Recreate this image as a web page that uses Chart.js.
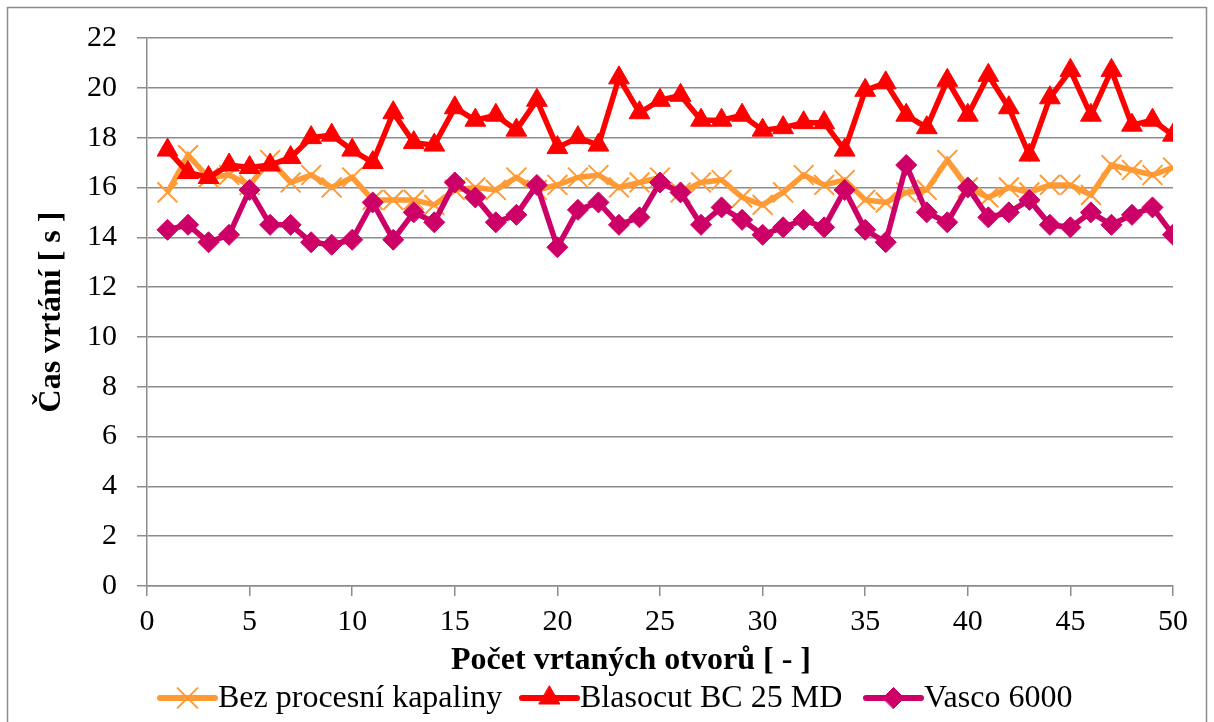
<!DOCTYPE html>
<html>
<head>
<meta charset="utf-8">
<script src="https://cdn.jsdelivr.net/npm/chart.js@4/dist/chart.umd.min.js"></script>
<style>
html,body{margin:0;padding:0;background:#fff;}
#wrap{width:1214px;height:722px;position:relative;}
</style>
</head>
<body>
<div id="wrap"><canvas id="c" width="1214" height="722"></canvas></div>
<script>
const holes = Array.from({length: 50}, (_, i) => i + 1);
const seriesNames = ['Bez procesní kapaliny', 'Blasocut BC 25 MD', 'Vasco 6000'];
const bezValues = [15.8,17.3,16.4,16.5,16.1,17.1,16.2,16.5,16.0,16.4,
                   15.5,15.5,15.5,15.3,15.9,16.0,15.9,16.4,15.9,16.1,
                   16.4,16.5,16.0,16.2,16.4,15.8,16.2,16.3,15.6,15.3,
                   15.8,16.5,16.1,16.3,15.5,15.4,15.8,15.9,17.1,16.0,
                   15.6,16.0,15.8,16.1,16.1,15.7,16.9,16.7,16.5,16.8];
const blasocutValues = [17.5,16.6,16.4,16.9,16.8,16.9,17.2,18.0,18.1,17.5,
                        17.0,19.0,17.8,17.7,19.2,18.7,18.9,18.3,19.5,17.6,
                        18.0,17.7,20.4,19.0,19.5,19.7,18.7,18.7,18.9,18.3,
                        18.4,18.6,18.6,17.5,19.9,20.2,18.9,18.4,20.3,18.9,
                        20.5,19.2,17.3,19.6,20.7,18.9,20.7,18.5,18.7,18.1];
const vascoValues = [14.3,14.5,13.8,14.1,15.9,14.5,14.5,13.8,13.7,13.9,
                     15.4,13.9,15.0,14.6,16.2,15.6,14.6,14.9,16.1,13.6,
                     15.1,15.4,14.5,14.8,16.2,15.8,14.5,15.2,14.7,14.1,
                     14.4,14.7,14.4,15.9,14.3,13.8,16.9,15.0,14.6,16.0,
                     14.8,15.0,15.5,14.5,14.4,15.0,14.5,14.9,15.2,14.1];
const xTitle = 'Počet vrtaných otvorů [ - ]';
const yTitle = 'Čas vrtání [ s ]';

const FONT = '"Liberation Serif", "Times New Roman", serif';
const ORANGE = '#FF9A35', RED = '#FF0000', MAGENTA = '#CC0066';
const GRID = '#8c8c8c';

const toPts = vals => vals.map((v, i) => ({x: holes[i], y: v}));

const styles = [
  {color: ORANGE, point: 'crossRot', r: 14, pbw: 2, order: 3},
  {color: RED, point: 'triangle', r: 12, pbw: 1, order: 2},
  {color: MAGENTA, point: 'rectRot', r: 10.5, pbw: 1, order: 1}
];
const allValues = [bezValues, blasocutValues, vascoValues];

const datasets = allValues.map((vals, k) => ({
  label: seriesNames[k],
  data: toPts(vals),
  borderColor: styles[k].color,
  backgroundColor: styles[k].color,
  borderWidth: 5.5,
  pointStyle: styles[k].point,
  pointRadius: styles[k].r,
  pointHoverRadius: styles[k].r,
  pointBorderWidth: styles[k].pbw,
  pointBorderColor: styles[k].color,
  pointBackgroundColor: styles[k].color,
  tension: 0,
  order: styles[k].order
}));

const frame = {
  id: 'frame',
  beforeDraw(chart) {
    const ctx = chart.ctx;
    ctx.save();
    ctx.fillStyle = '#fff';
    ctx.fillRect(0, 0, chart.width, chart.height);
    ctx.strokeStyle = '#8c8c8c';
    ctx.lineWidth = 1.5;
    ctx.strokeRect(7.5, 7.5, 1199, 730);
    ctx.restore();
  }
};

const legendPlugin = {
  id: 'customLegend',
  afterDraw(chart) {
    const ctx = chart.ctx;
    ctx.save();
    // x axis title
    ctx.font = 'bold 32px ' + FONT;
    ctx.textAlign = 'center';
    ctx.textBaseline = 'middle';
    ctx.fillStyle = '#000';
    ctx.fillText(xTitle, 631, 661);
    // legend
    ctx.textAlign = 'left';
    ctx.font = '32px ' + FONT;
    const y = 698;
    const starts = [160, 522, 866];
    chart.data.datasets.forEach((ds, k) => {
      const x0 = starts[k];
      ctx.strokeStyle = ds.borderColor;
      ctx.lineWidth = 6;
      ctx.lineCap = 'round';
      ctx.beginPath();
      ctx.moveTo(x0, y);
      ctx.lineTo(x0 + 55, y);
      ctx.stroke();
      ctx.fillStyle = ds.pointBackgroundColor;
      ctx.strokeStyle = ds.pointBorderColor;
      ctx.lineWidth = ds.pointBorderWidth;
      Chart.helpers.drawPoint(ctx, {
        pointStyle: ds.pointStyle,
        radius: ds.pointRadius,
        borderWidth: ds.pointBorderWidth
      }, x0 + 27.5, y);
      ctx.fillStyle = '#000';
      ctx.fillText(ds.label, x0 + 58, y + 1);
    });
    ctx.restore();
  }
};

new Chart(document.getElementById('c'), {
  type: 'line',
  data: {datasets},
  options: {
    responsive: false,
    animation: false,
    events: [],
    layout: {padding: {left: 0, right: 41, top: 37, bottom: 0}},
    plugins: {legend: {display: false}, tooltip: {enabled: false}},
    scales: {
      x: {
        type: 'linear',
        min: 0, max: 50,
        afterFit: s => { s.height = 136; },
        ticks: {stepSize: 5, color: '#000', font: {family: FONT, size: 30}, padding: 8, maxRotation: 0},
        grid: {drawOnChartArea: false, drawTicks: true, tickLength: 10, color: GRID, lineWidth: 1.5},
        border: {color: GRID, width: 1.5},
        title: {display: false}
      },
      y: {
        min: 0, max: 22,
        afterFit: s => { s.width = 147; },
        ticks: {stepSize: 2, color: '#000', font: {family: FONT, size: 30}, padding: 20},
        grid: {drawOnChartArea: true, drawTicks: true, tickLength: 10, color: GRID, lineWidth: 1.5},
        border: {color: GRID, width: 1.5},
        title: {display: true, text: yTitle, color: '#000', font: {family: FONT, size: 32, weight: 'bold'}, padding: {top: 33, bottom: 0}}
      }
    }
  },
  plugins: [frame, legendPlugin]
});
</script>
</body>
</html>
